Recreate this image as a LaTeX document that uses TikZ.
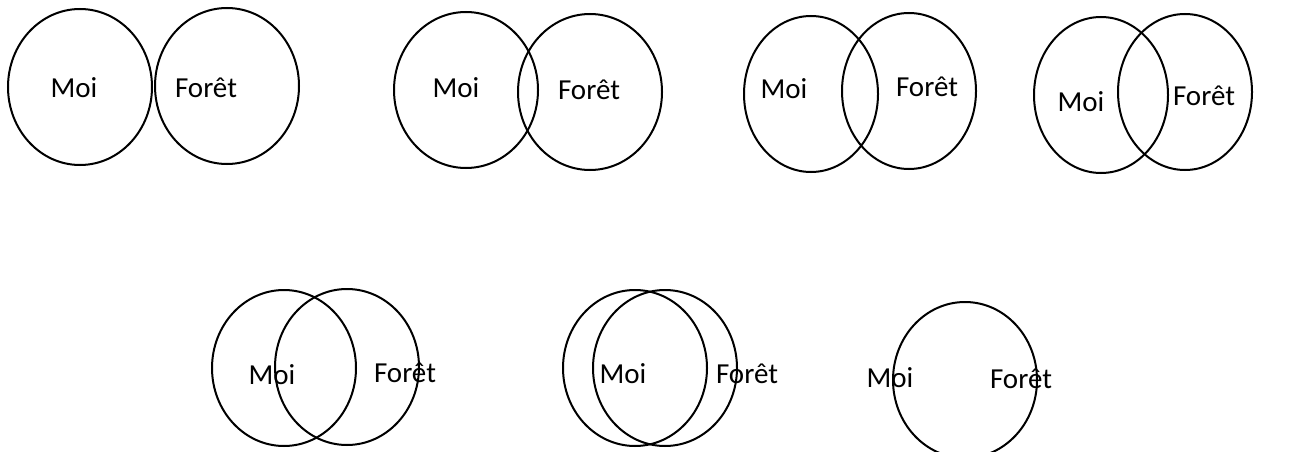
\documentclass[tikz,border=0pt]{standalone}
\usepackage{fontspec}
\setmainfont{Carlito}
\usetikzlibrary{shapes.geometric}
\tikzset{
  ring/.style={ellipse,draw=black,line width=2pt,minimum width=144pt,minimum height=156pt,inner sep=0pt},
  narrowring/.style={ring,minimum width=134pt},
  word/.style={inner sep=0pt,font=\fontsize{29}{30}\selectfont}
}
\begin{document}
\begin{tikzpicture}[x=1pt,y=-1pt]
  \useasboundingbox (0,0) rectangle (1298,452);

  % first row
  \node[ring] (moiA) at (80,87) {};
  \node[ring] (foretA) at (227,86) {};
  \node[word] (tmoiA) at (74,88) {Moi};
  \node[word] (tforetA) at (206,88) {Forêt};

  \node[ring] (moiB) at (466,90) {};
  \node[ring] (foretB) at (590,92) {};
  \node[word] (tmoiB) at (456,88) {Moi};
  \node[word] (tforetB) at (589,90) {Forêt};

  \node[narrowring] (moiC) at (811,94) {};
  \node[narrowring] (foretC) at (909,91) {};
  \node[word] (tmoiC) at (784,89) {Moi};
  \node[word] (tforetC) at (927,87) {Forêt};

  \node[narrowring] (moiD) at (1101,95) {};
  \node[narrowring] (foretD) at (1185,92) {};
  \node[word] (tmoiD) at (1081,102) {Moi};
  \node[word] (tforetD) at (1204,96) {Forêt};

  % second row
  \node[ring] (moiE) at (284,368) {};
  \node[ring] (foretE) at (347,367) {};
  \node[word] (tmoiE) at (272,375) {Moi};
  \node[word] (tforetE) at (405,373) {Forêt};

  \node[ring] (moiF) at (635,368) {};
  \node[ring] (foretF) at (665,368) {};
  \node[word] (tmoiF) at (623,374) {Moi};
  \node[word] (tforetF) at (747,374) {Forêt};

  \node[ring] (moiG) at (965,380) {};
  \node[word] (tmoiG) at (890,378) {Moi};
  \node[word] (tforetG) at (1021,379) {Forêt};
\end{tikzpicture}
\end{document}
